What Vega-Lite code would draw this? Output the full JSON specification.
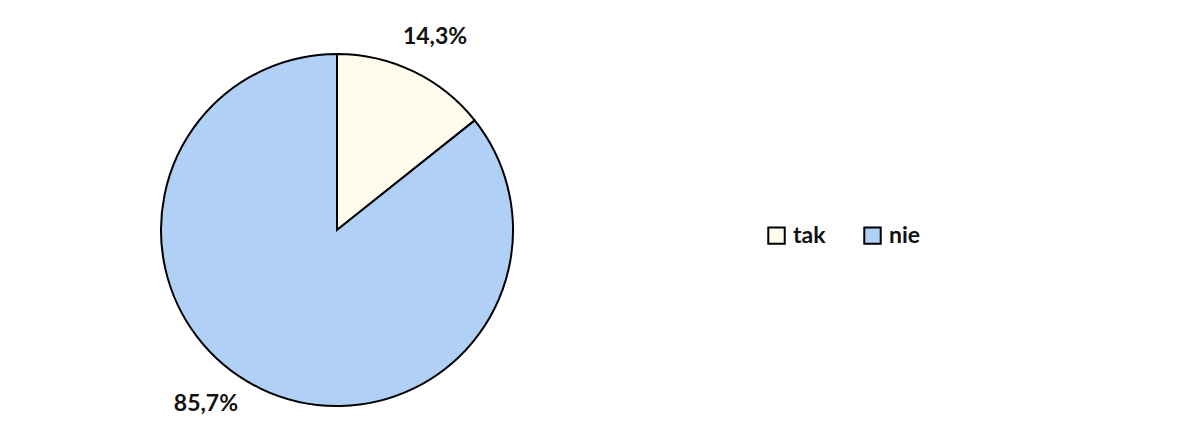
{
  "$schema": "https://vega.github.io/schema/vega-lite/v6.json",
  "width": 674,
  "height": 436,
  "padding": {"left": 0, "top": 12, "right": 0, "bottom": 0},
  "background": "white",
  "config": {"view": {"stroke": null}, "font": "Lato"},
  "data": {"values": [
    {"category": "tak", "value": 14.3, "label": "14,3%"},
    {"category": "nie", "value": 85.7, "label": "85,7%"}
  ]},
  "encoding": {
    "theta": {"field": "value", "type": "quantitative", "stack": true},
    "order": {"field": "category", "sort": "descending"},
    "color": {
      "field": "category", "type": "nominal", "sort": ["tak", "nie"],
      "scale": {"domain": ["tak", "nie"], "range": ["#FFFCEE", "#B0D0F5"]},
      "legend": {
        "title": null, "orient": "none", "direction": "horizontal",
        "legendX": 765, "legendY": 212,
        "symbolType": "square", "symbolSize": 270, "symbolStrokeWidth": 2,
        "symbolStrokeColor": "black",
        "labelFont": "Lato", "labelFontSize": 23, "labelFontWeight": "bold",
        "labelColor": "#111", "labelOffset": 5, "columnPadding": 34
      }
    }
  },
  "layer": [
    {"mark": {"type": "arc", "outerRadius": 176, "stroke": "black", "strokeWidth": 2}},
    {
      "mark": {"type": "text", "radius": 212, "fontSize": 23, "fontWeight": "bold", "font": "Lato", "color": "#111", "align": "center", "baseline": "middle",
        "dx": {"expr": "datum.category === 'nie' ? -39 : 6"},
        "dy": {"expr": "datum.category === 'nie' ? -17 : -2"}},
      "encoding": {"text": {"field": "label"}, "color": {"value": "#111"}}
    }
  ]
}
